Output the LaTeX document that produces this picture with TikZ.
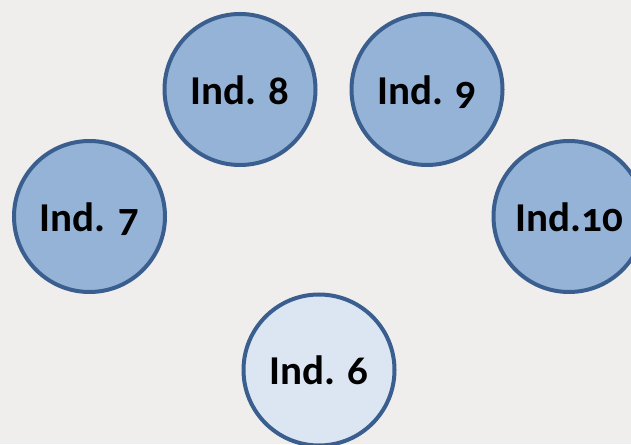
\documentclass[tikz,border=0pt]{standalone}
\usepackage{fontspec}
\setmainfont{Carlito}[Numbers=OldStyle]
\definecolor{bgc}{HTML}{F0EEED}
\definecolor{indfill}{HTML}{95B3D7}
\definecolor{indlight}{HTML}{DCE6F2}
\definecolor{indline}{HTML}{3A5F8F}
\begin{document}
\begin{tikzpicture}[x=1pt,y=1pt,
  ind/.style={circle,draw=indline,line width=4pt,fill=indfill,minimum size=151pt,inner sep=0pt,
    text height=30pt,text depth=0pt,
    font=\fontsize{41}{44}\selectfont\bfseries,text=black},
  indsel/.style={ind,fill=indlight}]
\fill[bgc] (0,0) rectangle (631,444);
\useasboundingbox (0,0) rectangle (631,444);
\node[ind] (i8) at (240,354.5) {Ind. 8};
\node[ind] (i9) at (427,354.5) {Ind. 9};
\node[ind] (i7) at (89.5,227.5) {Ind. 7};
\node[ind] (i10) at (569,227.5) {Ind.10};
\node[indsel] (i6) at (319,74) {Ind. 6};
\end{tikzpicture}
\end{document}
